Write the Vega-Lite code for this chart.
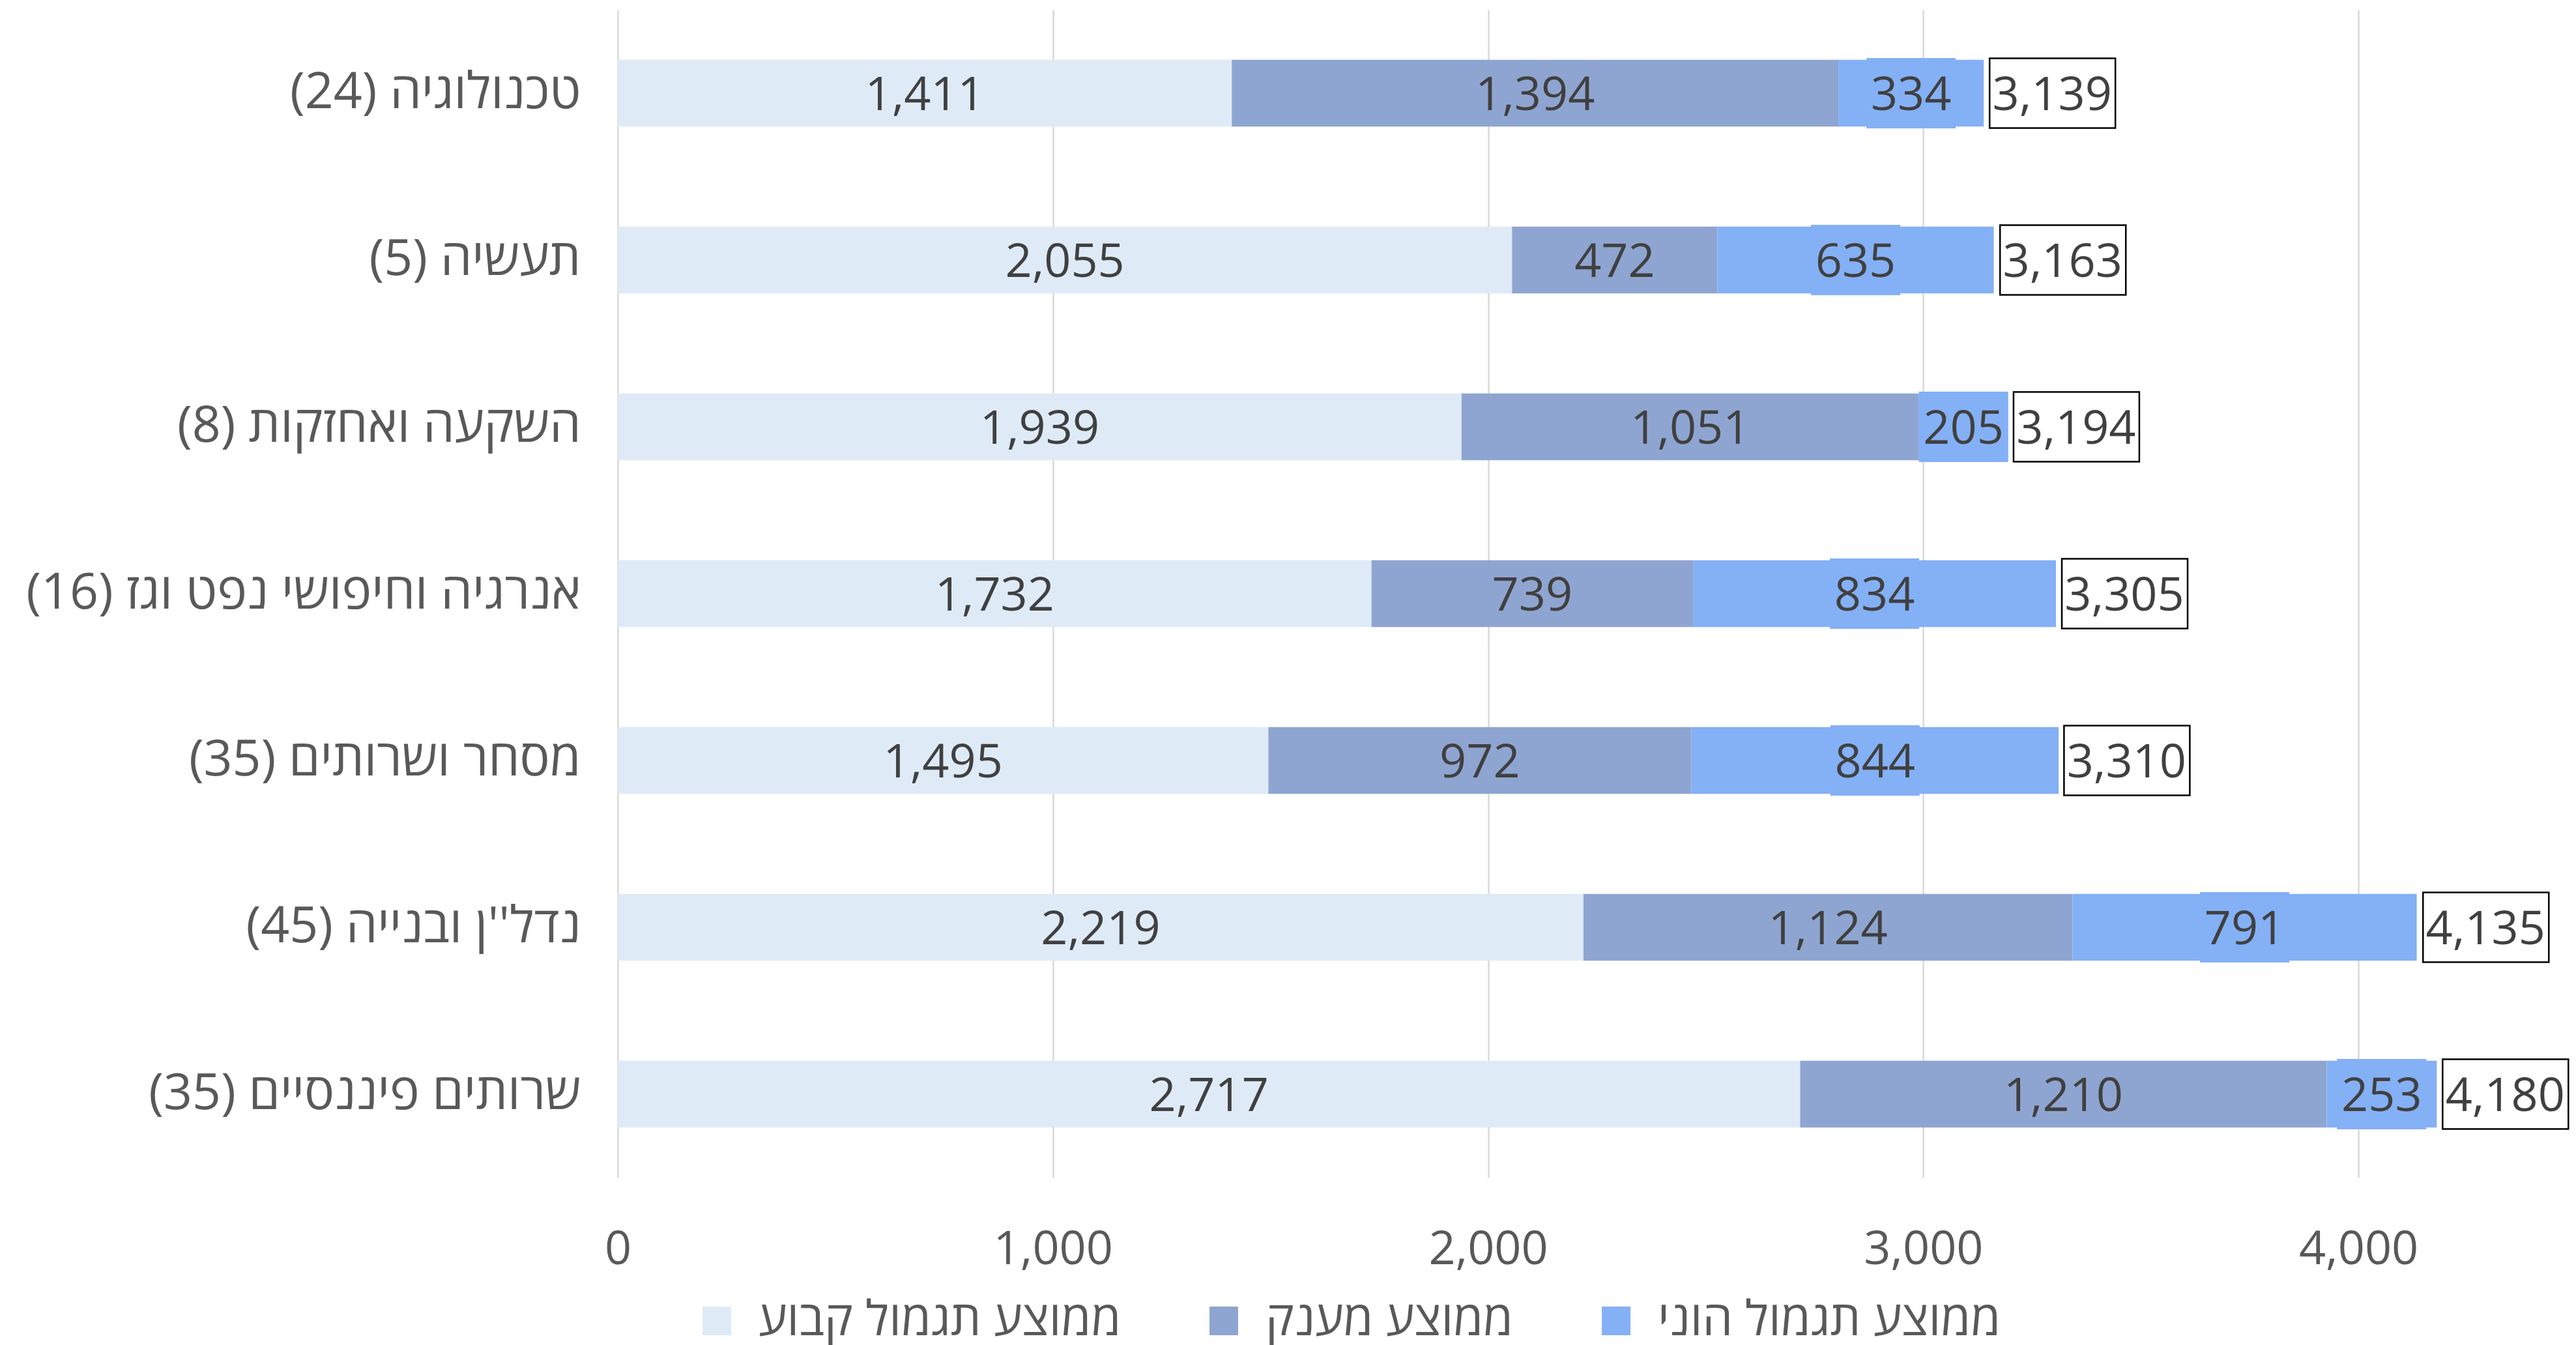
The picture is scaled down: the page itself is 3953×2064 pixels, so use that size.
{
  "$schema": "https://vega.github.io/schema/vega-lite/v6.json",
  "autosize": {"type": "none"},
  "padding": {"left": 948, "top": 15, "right": 0, "bottom": 257},
  "width": 3005,
  "height": 1792,
  "background": "white",
  "config": {
    "view": {"stroke": null},
    "font": "Open Sans",
    "axis": {
      "labelFont": "Open Sans",
      "labelFontSize": 72,
      "labelColor": "#595959",
      "labelLimit": 0,
      "gridColor": "#D9D9D9",
      "gridWidth": 2.5,
      "domain": false,
      "ticks": false,
      "title": null
    },
    "legend": {
      "labelFont": "Open Sans",
      "labelFontSize": 74,
      "labelColor": "#595959"
    }
  },
  "datasets": {
    "seg": [
      {"cat": "טכנולוגיה (24)", "series": "ממוצע תגמול קבוע", "k": 1, "value": 1411},
      {"cat": "טכנולוגיה (24)", "series": "ממוצע מענק", "k": 2, "value": 1394},
      {"cat": "טכנולוגיה (24)", "series": "ממוצע תגמול הוני", "k": 3, "value": 334},
      {"cat": "תעשיה (5)", "series": "ממוצע תגמול קבוע", "k": 1, "value": 2055},
      {"cat": "תעשיה (5)", "series": "ממוצע מענק", "k": 2, "value": 472},
      {"cat": "תעשיה (5)", "series": "ממוצע תגמול הוני", "k": 3, "value": 635},
      {"cat": "השקעה ואחזקות (8)", "series": "ממוצע תגמול קבוע", "k": 1, "value": 1939},
      {"cat": "השקעה ואחזקות (8)", "series": "ממוצע מענק", "k": 2, "value": 1051},
      {"cat": "השקעה ואחזקות (8)", "series": "ממוצע תגמול הוני", "k": 3, "value": 205},
      {"cat": "אנרגיה וחיפושי נפט וגז (16)", "series": "ממוצע תגמול קבוע", "k": 1, "value": 1732},
      {"cat": "אנרגיה וחיפושי נפט וגז (16)", "series": "ממוצע מענק", "k": 2, "value": 739},
      {"cat": "אנרגיה וחיפושי נפט וגז (16)", "series": "ממוצע תגמול הוני", "k": 3, "value": 834},
      {"cat": "מסחר ושרותים (35)", "series": "ממוצע תגמול קבוע", "k": 1, "value": 1495},
      {"cat": "מסחר ושרותים (35)", "series": "ממוצע מענק", "k": 2, "value": 972},
      {"cat": "מסחר ושרותים (35)", "series": "ממוצע תגמול הוני", "k": 3, "value": 844},
      {"cat": "נדל''ן ובנייה (45)", "series": "ממוצע תגמול קבוע", "k": 1, "value": 2219},
      {"cat": "נדל''ן ובנייה (45)", "series": "ממוצע מענק", "k": 2, "value": 1124},
      {"cat": "נדל''ן ובנייה (45)", "series": "ממוצע תגמול הוני", "k": 3, "value": 791},
      {"cat": "שרותים פיננסיים (35)", "series": "ממוצע תגמול קבוע", "k": 1, "value": 2717},
      {"cat": "שרותים פיננסיים (35)", "series": "ממוצע מענק", "k": 2, "value": 1210},
      {"cat": "שרותים פיננסיים (35)", "series": "ממוצע תגמול הוני", "k": 3, "value": 253}
    ],
    "tot": [
      {"cat": "טכנולוגיה (24)", "total": 3139},
      {"cat": "תעשיה (5)", "total": 3163},
      {"cat": "השקעה ואחזקות (8)", "total": 3194},
      {"cat": "אנרגיה וחיפושי נפט וגז (16)", "total": 3305},
      {"cat": "מסחר ושרותים (35)", "total": 3310},
      {"cat": "נדל''ן ובנייה (45)", "total": 4135},
      {"cat": "שרותים פיננסיים (35)", "total": 4180}
    ]
  },
  "encoding": {
    "y": {
      "field": "cat",
      "type": "nominal",
      "scale": {
        "domain": ["טכנולוגיה (24)", "תעשיה (5)", "השקעה ואחזקות (8)", "אנרגיה וחיפושי נפט וגז (16)", "מסחר ושרותים (35)", "נדל''ן ובנייה (45)", "שרותים פיננסיים (35)"],
        "paddingInner": 0.6,
        "paddingOuter": 0.3
      },
      "axis": {"labelPadding": 57, "labelLimit": 0, "grid": false, "labelFontSize": 77}
    }
  },
  "layer": [
    {
      "data": {"name": "seg"},
      "mark": {"type": "bar"},
      "encoding": {
        "x": {
          "field": "value",
          "type": "quantitative",
          "stack": "zero",
          "scale": {"domain": [0, 4500], "nice": false, "zero": true},
          "axis": {
            "values": [0, 1000, 2000, 3000, 4000],
            "format": ",d",
            "labelPadding": 75,
            "labelLimit": 0,
            "labelFlush": false,
            "labelOverlap": false,
            "grid": true
          }
        },
        "color": {
          "field": "series",
          "type": "nominal",
          "scale": {
            "domain": ["ממוצע תגמול קבוע", "ממוצע מענק", "ממוצע תגמול הוני"],
            "range": ["#DEEBF7", "#8FA5D1", "#84B0F5"]
          },
          "legend": {
            "title": null,
            "orient": "none",
            "direction": "horizontal",
            "legendX": 115,
            "legendY": 1975,
            "padding": 0,
            "symbolType": "square",
            "symbolSize": 1936,
            "symbolStrokeWidth": 0,
            "labelOffset": 27,
            "columnPadding": 120,
            "labelLimit": 0
          }
        },
        "order": {"field": "k", "type": "quantitative"}
      }
    },
    {
      "data": {"name": "seg"},
      "mark": {
        "type": "point",
        "shape": "M-1,-0.788L1,-0.788L1,0.788L-1,0.788Z",
        "filled": true,
        "size": 18769,
        "fill": "#84B0F5",
        "strokeWidth": 0
      },
      "encoding": {
        "x": {"field": "value", "type": "quantitative", "stack": "zero", "bandPosition": 0.5},
        "detail": {"field": "series"},
        "order": {"field": "k", "type": "quantitative"},
        "opacity": {
          "condition": {"test": "datum.k === 3", "value": 1},
          "value": 0
        }
      }
    },
    {
      "data": {"name": "seg"},
      "mark": {
        "type": "text",
        "fontSize": 72,
        "font": "Open Sans",
        "color": "#404040",
        "baseline": "middle",
        "align": "center",
        "dy": 4
      },
      "encoding": {
        "x": {"field": "value", "type": "quantitative", "stack": "zero", "bandPosition": 0.5},
        "detail": {"field": "series"},
        "order": {"field": "k", "type": "quantitative"},
        "text": {"field": "value", "type": "quantitative", "format": ",d"}
      }
    },
    {
      "data": {"name": "tot"},
      "mark": {
        "type": "bar",
        "fill": "white",
        "stroke": "#000000",
        "strokeWidth": 2.5,
        "height": 107,
        "xOffset": 9,
        "x2Offset": 202
      },
      "encoding": {
        "x": {"field": "total", "type": "quantitative"},
        "x2": {"field": "total"}
      }
    },
    {
      "data": {"name": "tot"},
      "mark": {
        "type": "text",
        "fontSize": 72,
        "font": "Open Sans",
        "color": "#404040",
        "baseline": "middle",
        "align": "center",
        "dx": 105,
        "dy": 4
      },
      "encoding": {
        "x": {"field": "total", "type": "quantitative"},
        "text": {"field": "total", "type": "quantitative", "format": ",d"}
      }
    }
  ]
}
